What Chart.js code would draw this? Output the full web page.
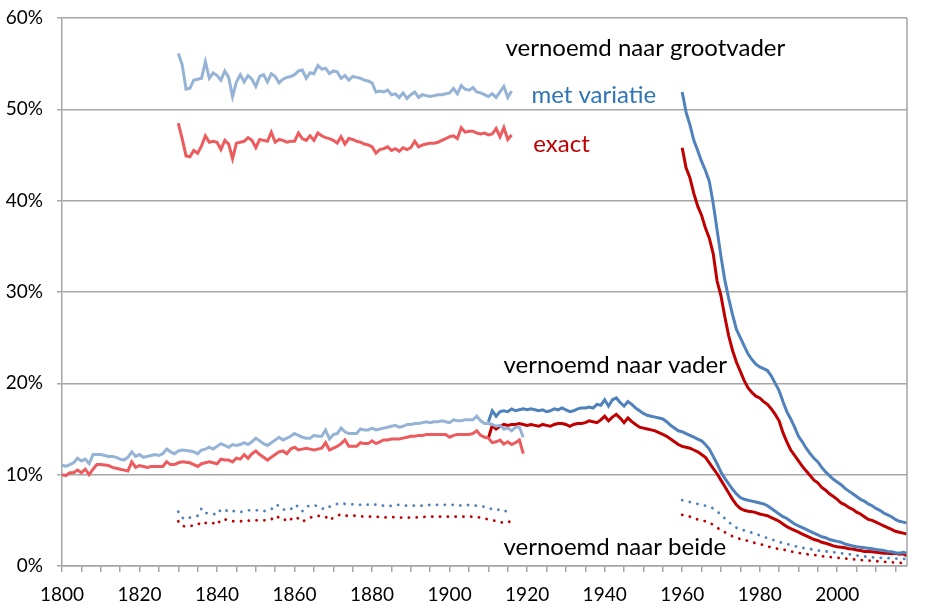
<!DOCTYPE html>
<html>
<head>
<meta charset="utf-8">
<script src="https://cdn.jsdelivr.net/npm/chart.js@4.4.1/dist/chart.umd.min.js"></script>
<style>
  body { margin: 0; background: #fff; }
  canvas { display: block; }
</style>
</head>
<body>
<canvas id="namesChart" width="939" height="613"></canvas>
<script>
// percentages per birth year, each series starts at its own first year

// grandfather, 1830-1916
const grandOldStart = 1830;
const grandOldVariation = [56.1, 54.9, 52.2, 52.3, 53.2, 53.3, 53.4, 55.2, 53.4, 54.0,
    53.7, 53.2, 54.2, 53.5, 51.4, 53.0, 53.8, 53.0, 53.7, 53.3,
    52.5, 53.6, 53.8, 53.0, 53.9, 53.6, 52.9, 53.3, 53.5, 53.6,
    53.8, 54.2, 54.3, 53.4, 54.0, 53.9, 54.8, 54.4, 54.5, 53.9,
    54.2, 54.1, 53.4, 53.7, 53.2, 53.6, 53.5, 53.4, 53.2, 53.1,
    52.9, 51.9, 52.0, 51.9, 52.1, 51.6, 51.7, 51.3, 51.8, 51.2,
    51.6, 51.9, 51.3, 51.6, 51.5, 51.4, 51.5, 51.6, 51.6, 51.7,
    51.8, 52.3, 51.7, 52.6, 52.2, 52.1, 52.4, 51.9, 51.8, 51.6,
    51.4, 51.7, 51.3, 51.9, 52.5, 51.3, 52.0];
const grandOldExact = [48.5, 46.8, 44.9, 44.8, 45.5, 45.2, 46.0, 47.1, 46.4, 46.5,
    46.4, 45.6, 46.6, 46.2, 44.6, 46.3, 46.4, 46.5, 46.9, 46.6,
    45.8, 46.7, 46.6, 46.5, 47.5, 46.4, 46.7, 46.6, 46.4, 46.5,
    46.5, 47.4, 46.8, 46.6, 47.1, 46.6, 47.4, 47.1, 46.9, 46.8,
    46.6, 46.3, 47.0, 46.2, 46.8, 46.7, 46.5, 46.4, 46.2, 46.1,
    45.9, 45.2, 45.6, 45.7, 45.9, 45.5, 45.7, 45.4, 45.8, 45.6,
    45.8, 46.5, 45.9, 46.1, 46.2, 46.3, 46.3, 46.4, 46.6, 46.8,
    47.0, 47.1, 46.8, 48.0, 47.5, 47.6, 47.6, 47.4, 47.3, 47.4,
    47.2, 47.3, 47.9, 47.0, 48.0, 46.7, 47.2];

// grandfather, 1960-2018
const grandNewStart = 1960;
const grandNewVariation = [51.9, 49.7, 48.3, 46.6, 45.5, 44.3, 43.3, 42.1, 39.7, 36.8,
    33.9, 31.3, 29.3, 27.5, 25.9, 25.0, 24.1, 23.2, 22.6, 22.1,
    21.8, 21.6, 21.4, 20.8, 20.0, 19.2, 18.0, 16.9, 16.1, 15.2,
    14.2, 13.6, 12.9, 12.3, 11.8, 11.4, 10.8, 10.3, 9.9, 9.5,
    9.2, 8.9, 8.5, 8.2, 7.9, 7.6, 7.3, 7.1, 6.8, 6.6,
    6.3, 6.1, 5.8, 5.6, 5.4, 5.1, 4.9, 4.8, 4.7];
const grandNewExact = [45.8, 43.6, 42.5, 40.8, 39.4, 38.4, 37.0, 35.9, 34.2, 31.2,
    29.6, 27.3, 25.2, 23.6, 22.3, 21.3, 20.3, 19.5, 19.0, 18.6,
    18.4, 18.0, 17.7, 17.2, 16.6, 15.9, 14.6, 13.6, 12.7, 12.1,
    11.5, 10.9, 10.4, 9.9, 9.4, 9.1, 8.6, 8.3, 7.9, 7.6,
    7.3, 6.9, 6.7, 6.4, 6.2, 5.9, 5.7, 5.4, 5.1, 5.0,
    4.8, 4.6, 4.4, 4.2, 4.0, 3.8, 3.7, 3.6, 3.5];

// father, 1800-1919
const fatherOldStart = 1800;
const fatherOldVariation = [11.06, 10.9, 11.1, 11.3, 11.8, 11.5, 11.7, 11.2, 12.2, 12.2,
    12.2, 12.1, 12.0, 12.0, 11.9, 11.7, 11.6, 11.9, 12.5, 12.0,
    12.2, 11.9, 12.0, 12.1, 12.2, 12.1, 12.3, 12.8, 12.5, 12.3,
    12.6, 12.7, 12.65, 12.6, 12.5, 12.3, 12.7, 12.8, 13.0, 12.8,
    13.1, 13.4, 13.2, 13.0, 13.3, 13.2, 13.3, 13.5, 13.3, 13.6,
    14.0, 13.7, 13.4, 13.2, 13.5, 13.8, 14.1, 13.8, 14.0, 14.2,
    14.5, 14.3, 14.1, 14.0, 14.0, 14.3, 14.2, 14.2, 14.9, 13.9,
    14.4, 14.5, 15.1, 14.7, 14.5, 14.5, 14.5, 15.0, 14.9, 14.9,
    15.1, 14.9, 15.0, 15.1, 15.2, 15.3, 15.4, 15.2, 15.3, 15.5,
    15.5, 15.6, 15.6, 15.7, 15.8, 15.7, 15.8, 15.8, 15.9, 15.8,
    15.7, 16.0, 15.9, 15.9, 16.0, 16.0, 16.0, 16.4, 15.9, 15.6,
    15.6, 15.5, 15.3, 15.4, 15.0, 15.1, 14.8, 15.2, 15.2, 14.1];
const fatherOldExact = [10.0, 9.9, 10.2, 10.2, 10.5, 10.2, 10.6, 10.0, 10.6, 11.1,
    11.1, 11.05, 11.0, 10.8, 10.7, 10.6, 10.5, 10.4, 11.4, 10.8,
    11.0, 10.9, 10.8, 10.9, 10.9, 10.9, 10.9, 11.4, 11.1, 11.1,
    11.3, 11.4, 11.35, 11.3, 11.1, 10.9, 11.2, 11.3, 11.4, 11.3,
    11.2, 11.7, 11.6, 11.6, 11.4, 11.8, 11.7, 12.2, 11.8, 12.3,
    12.6, 12.2, 11.9, 11.6, 11.9, 12.2, 12.5, 12.6, 12.3, 12.8,
    13.0, 12.7, 12.8, 12.9, 12.8, 12.7, 12.8, 12.9, 13.5, 12.7,
    12.9, 13.1, 13.4, 13.8, 13.1, 13.1, 13.1, 13.5, 13.4, 13.4,
    13.7, 13.4, 13.6, 13.8, 13.8, 13.9, 13.9, 13.9, 14.0, 14.1,
    14.2, 14.2, 14.3, 14.3, 14.4, 14.4, 14.4, 14.4, 14.4, 14.4,
    14.1, 14.3, 14.4, 14.4, 14.4, 14.4, 14.5, 14.8, 14.3, 14.1,
    14.0, 13.5, 13.6, 13.8, 13.35, 13.6, 13.3, 13.5, 13.8, 12.3];

// father, 1910-2018
const fatherNewStart = 1910;
const fatherNewVariation = [15.8, 17.0, 16.4, 16.9, 17.0, 16.9, 17.2, 17.0, 17.1, 17.2,
    17.1, 17.2, 17.1, 17.0, 17.1, 16.9, 17.0, 17.2, 17.1, 17.3,
    17.1, 16.9, 17.0, 17.2, 17.3, 17.3, 17.4, 17.3, 17.7, 17.6,
    18.2, 17.5, 18.2, 18.4, 17.9, 17.5, 18.0, 17.7, 17.3, 17.0,
    16.7, 16.5, 16.4, 16.3, 16.2, 16.1, 15.8, 15.4, 15.1, 14.8,
    14.7, 14.5, 14.3, 14.1, 13.9, 13.7, 13.3, 12.8, 12.0, 11.2,
    10.3, 9.6, 9.0, 8.4, 7.9, 7.5, 7.3, 7.2, 7.1, 7.0,
    6.9, 6.8, 6.6, 6.3, 6.0, 5.7, 5.4, 5.2, 4.9, 4.6,
    4.4, 4.2, 4.0, 3.8, 3.6, 3.4, 3.2, 3.1, 2.9, 2.8,
    2.7, 2.6, 2.4, 2.3, 2.2, 2.1, 2.05, 2.0, 1.95, 1.9,
    1.8, 1.75, 1.7, 1.6, 1.55, 1.45, 1.4, 1.5, 1.4];
const fatherNewExact = [14.0, 15.4, 15.0, 15.3, 15.5, 15.4, 15.5, 15.5, 15.6, 15.5,
    15.4, 15.5, 15.4, 15.3, 15.5, 15.4, 15.3, 15.5, 15.6, 15.6,
    15.5, 15.3, 15.5, 15.6, 15.6, 15.7, 15.9, 15.8, 15.7, 16.0,
    16.4, 15.9, 16.3, 16.6, 16.2, 15.7, 16.2, 15.8, 15.5, 15.2,
    15.1, 15.0, 14.9, 14.8, 14.6, 14.4, 14.2, 13.9, 13.6, 13.3,
    13.1, 13.0, 12.9, 12.7, 12.5, 12.2, 11.9, 11.3, 10.7, 10.1,
    9.4, 8.7, 8.0, 7.3, 6.7, 6.3, 6.1, 6.0, 5.95, 5.85,
    5.7, 5.6, 5.5, 5.3, 5.1, 4.9, 4.6, 4.3, 4.1, 3.9,
    3.7, 3.5, 3.3, 3.1, 2.9, 2.8, 2.6, 2.5, 2.35, 2.2,
    2.1, 2.05, 2.0, 1.9, 1.85, 1.75, 1.7, 1.6, 1.6, 1.55,
    1.5, 1.45, 1.4, 1.4, 1.35, 1.4, 1.3, 1.35, 1.1];

// both (father and grandfather), dotted
const bothOldStart = 1830;
const bothOldVariation = [5.95, 5.3, 5.1, 5.3, 5.4, 5.5, 6.3, 5.8, 5.8, 5.7,
    5.6, 6.2, 6.2, 5.9, 6.0, 6.0, 5.9, 6.0, 6.1, 6.1,
    6.1, 6.1, 6.0, 6.1, 6.2, 6.7, 6.6, 6.2, 6.1, 6.2,
    6.7, 6.5, 6.0, 6.5, 6.6, 6.7, 6.5, 6.3, 6.2, 6.5,
    6.6, 6.8, 6.9, 6.8, 6.75, 6.75, 6.7, 6.7, 6.8, 6.7,
    6.8, 6.7, 6.6, 6.6, 6.5, 6.6, 6.7, 6.7, 6.6, 6.6,
    6.6, 6.6, 6.6, 6.6, 6.6, 6.7, 6.7, 6.7, 6.7, 6.7,
    6.7, 6.7, 6.7, 6.6, 6.6, 6.7, 6.6, 6.6, 6.5, 6.5,
    6.4, 6.2, 6.1, 6.2, 6.0, 6.0, 6.2];
const bothOldExact = [4.9, 4.4, 4.3, 4.4, 4.4, 4.5, 4.85, 4.7, 4.8, 4.7,
    4.5, 5.1, 5.1, 5.0, 4.9, 4.9, 4.9, 4.9, 4.95, 5.0,
    5.0, 5.0, 5.0, 5.0, 5.1, 5.5, 5.3, 5.3, 4.85, 5.1,
    5.4, 5.2, 4.85, 5.1, 5.3, 5.4, 5.5, 5.4, 5.4, 5.0,
    5.3, 5.5, 5.65, 5.5, 5.5, 5.5, 5.5, 5.45, 5.4, 5.4,
    5.4, 5.4, 5.35, 5.35, 5.3, 5.35, 5.35, 5.3, 5.3, 5.3,
    5.3, 5.3, 5.35, 5.35, 5.4, 5.4, 5.4, 5.4, 5.4, 5.4,
    5.4, 5.4, 5.4, 5.4, 5.4, 5.4, 5.4, 5.35, 5.3, 5.2,
    5.1, 5.0, 4.95, 4.8, 4.75, 4.75, 5.0];
const bothNewStart = 1960;
const bothNewVariation = [7.2, 7.1, 7.0, 6.9, 6.8, 6.7, 6.6, 6.5, 6.3, 6.0,
    5.6, 5.2, 4.8, 4.5, 4.2, 4.0, 3.9, 3.8, 3.65, 3.5,
    3.35, 3.2, 3.05, 2.9, 2.8, 2.65, 2.5, 2.4, 2.3, 2.2,
    2.05, 2.0, 1.9, 1.85, 1.8, 1.7, 1.65, 1.6, 1.55, 1.5,
    1.45, 1.4, 1.35, 1.3, 1.2, 1.15, 1.1, 1.05, 1.0, 0.95,
    0.92, 0.9, 0.88, 0.86, 0.85, 0.82, 0.8, 0.78, 0.76];
const bothNewExact = [5.6, 5.5, 5.4, 5.2, 5.1, 5.0, 4.9, 4.75, 4.5, 4.2,
    3.95, 3.7, 3.45, 3.25, 3.1, 2.95, 2.85, 2.75, 2.6, 2.5,
    2.4, 2.3, 2.15, 2.05, 1.95, 1.85, 1.8, 1.7, 1.6, 1.5,
    1.42, 1.38, 1.3, 1.25, 1.2, 1.15, 1.08, 1.02, 0.98, 0.94,
    0.9, 0.87, 0.82, 0.78, 0.75, 0.7, 0.66, 0.63, 0.6, 0.56,
    0.53, 0.5, 0.47, 0.44, 0.4, 0.37, 0.35, 0.32, 0.3];

const xMin = 1800;
const xMax = 2018;
const yTicks = [0, 10, 20, 30, 40, 50, 60];

const lightBlue = '#95b3d7';
const lightRed = '#ec5b5e';
const darkBlue = '#4f81bd';
const darkRed = '#c00000';
const gridColor = '#a6a6a6';
const fontFamily = 'Lato, "Open Sans", sans-serif';

// text labels placed in data coordinates (year, percent)
const chartLabels = [
    { text: 'vernoemd naar grootvader', year: 1914.4, value: 56.7, color: '#000000' },
    { text: 'met variatie', year: 1921.1, value: 51.5, color: '#2e75b6' },
    { text: 'exact', year: 1921.6, value: 46.2, color: darkRed },
    { text: 'vernoemd naar vader', year: 1913.9, value: 22.0, color: '#000000' },
    { text: 'vernoemd naar beide', year: 1913.9, value: 2.0, color: '#000000' }
];

function toPoints(start, values) {
    return values.map((v, i) => ({ x: start + i, y: v }));
}

function lineSet(start, values, color, dotted) {
    return {
        data: toPoints(start, values),
        borderColor: color,
        backgroundColor: color,
        borderWidth: dotted ? 2.8 : 3,
        borderDash: dotted ? [0.1, 7.7] : [],
        borderCapStyle: dotted ? 'round' : 'butt',
        pointRadius: 0,
        tension: 0,
        fill: false
    };
}

const textPlugin = {
    id: 'textLabels',
    afterDatasetsDraw(chart) {
        const { ctx, scales } = chart;
        ctx.save();
        ctx.font = '24px ' + fontFamily;
        ctx.textAlign = 'left';
        ctx.textBaseline = 'middle';
        chartLabels.forEach(l => {
            ctx.fillStyle = l.color;
            ctx.fillText(l.text, scales.x.getPixelForValue(l.year), scales.y.getPixelForValue(l.value));
        });
        ctx.restore();
    },
    afterDraw(chart) {
        // right border of the plot area
        const { ctx, chartArea } = chart;
        ctx.save();
        ctx.strokeStyle = gridColor;
        ctx.lineWidth = 1.5;
        ctx.beginPath();
        ctx.moveTo(chartArea.right, chartArea.top);
        ctx.lineTo(chartArea.right, chartArea.bottom);
        ctx.stroke();
        ctx.restore();
    }
};

const ctx = document.getElementById('namesChart').getContext('2d');
new Chart(ctx, {
    type: 'line',
    data: {
        datasets: [
            lineSet(fatherOldStart, fatherOldVariation, lightBlue, false),
            lineSet(fatherOldStart, fatherOldExact, lightRed, false),
            lineSet(grandOldStart, grandOldVariation, lightBlue, false),
            lineSet(grandOldStart, grandOldExact, lightRed, false),
            lineSet(bothOldStart, bothOldVariation, darkBlue, true),
            lineSet(bothOldStart, bothOldExact, darkRed, true),
            lineSet(fatherNewStart, fatherNewVariation, darkBlue, false),
            lineSet(fatherNewStart, fatherNewExact, darkRed, false),
            lineSet(grandNewStart, grandNewVariation, darkBlue, false),
            lineSet(grandNewStart, grandNewExact, darkRed, false),
            lineSet(bothNewStart, bothNewVariation, darkBlue, true),
            lineSet(bothNewStart, bothNewExact, darkRed, true)
        ]
    },
    options: {
        responsive: false,
        animation: false,
        layout: { padding: { top: 18, right: 32, left: 0, bottom: 0 } },
        plugins: {
            legend: { display: false },
            tooltip: { enabled: false }
        },
        scales: {
            x: {
                type: 'linear',
                min: xMin,
                max: xMax,
                afterFit: scale => { scale.height = 47; },
                ticks: {
                    stepSize: 5,
                    autoSkip: false,
                    maxRotation: 0,
                    includeBounds: false,
                    padding: 11,
                    color: '#000',
                    font: { family: fontFamily, size: 19 },
                    callback: v => (v % 20 === 0 ? String(v) : '')
                },
                grid: {
                    drawOnChartArea: false,
                    drawTicks: true,
                    tickLength: 6,
                    color: gridColor,
                    lineWidth: 1.5
                },
                border: { color: gridColor, width: 1.5 }
            },
            y: {
                min: 0,
                max: 60,
                afterFit: scale => {
                    scale.width = 62;
                    scale.paddingTop = 0;
                    scale.paddingBottom = 0;
                },
                afterBuildTicks: scale => { scale.ticks = yTicks.map(v => ({ value: v })); },
                ticks: {
                    padding: 14,
                    color: '#000',
                    font: { family: fontFamily, size: 19 },
                    callback: v => v + '%'
                },
                grid: {
                    color: gridColor,
                    lineWidth: 1.5,
                    tickLength: 5
                },
                border: { color: gridColor, width: 1.5 }
            }
        }
    },
    plugins: [textPlugin]
});
</script>
</body>
</html>
